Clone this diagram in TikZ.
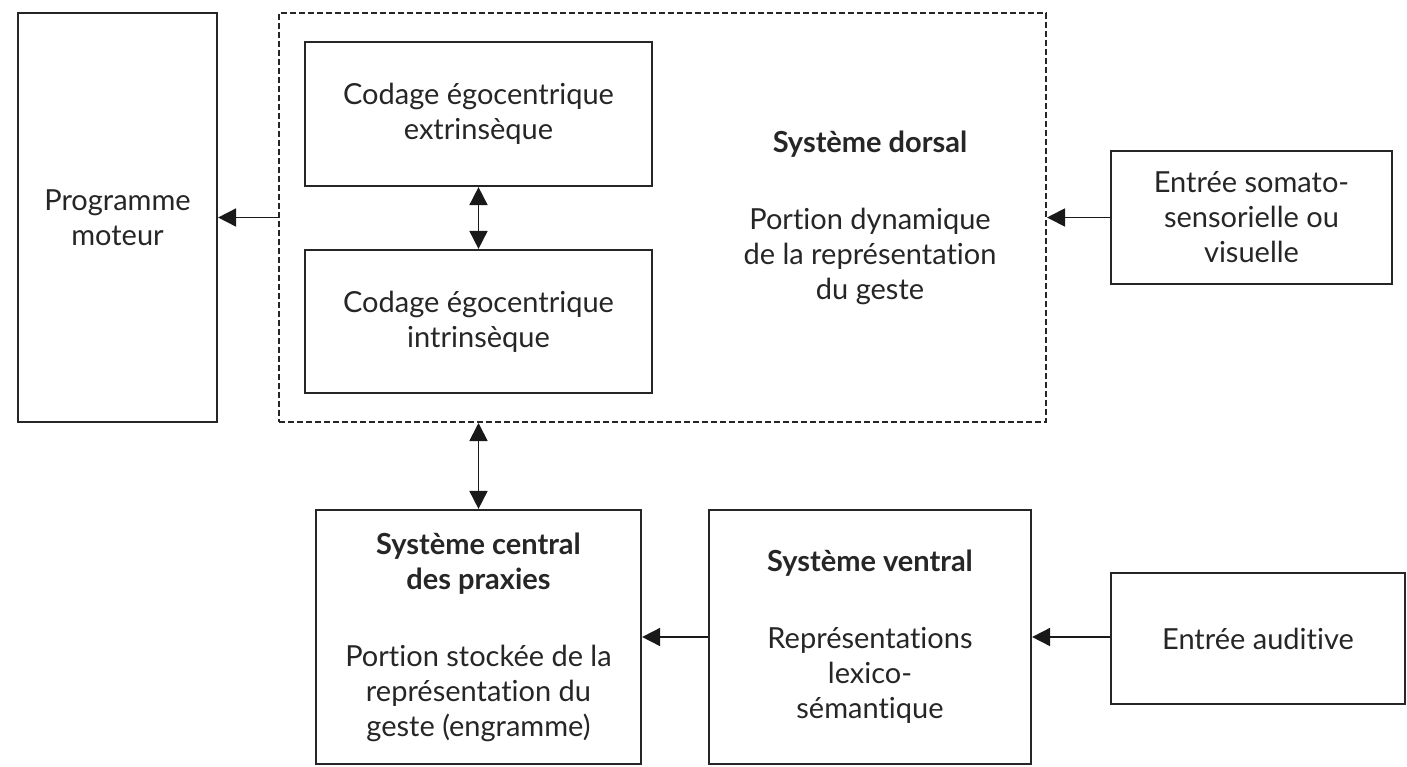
\documentclass[tikz,border=0pt]{standalone}
\usepackage{fontspec}
\setmainfont[Ligatures=NoCommon]{Lato}
\usetikzlibrary{arrows.meta}
\begin{document}
\begin{tikzpicture}[x=0.5pt,y=-0.5pt,
  box/.style={draw=black!85,line width=1.1pt,inner sep=0pt,align=center,
    font=\fontsize{14.5}{17.5}\selectfont,text=black!85},
  dbox/.style={draw=black!85,line width=1pt,dash pattern=on 3pt off 1.5pt,inner sep=0pt},
  txt/.style={align=center,font=\fontsize{14.5}{17.5}\selectfont,text=black!85,inner sep=0pt},
  conn/.style={line width=0.9pt,draw=black!90,-{Triangle[length=9pt,width=9pt]}},
  dconn/.style={line width=0.9pt,draw=black!90,{Triangle[length=9pt,width=9pt]}-{Triangle[length=9pt,width=9pt]}}
]
\useasboundingbox (0,0) rectangle (1407,766);
\node[box,minimum width=99.5pt,minimum height=204.5pt] (prog) at (117.5,217.5) {Programme\\moteur};
\node[dbox,minimum width=383.5pt,minimum height=204.5pt] (dorsal) at (662.5,217.5) {};
\node[box,minimum width=173.5pt,minimum height=72pt] (ext) at (478.5,114) {Codage égocentrique\\extrinsèque};
\node[box,minimum width=173.5pt,minimum height=71.5pt] (int) at (478.5,321.5) {Codage égocentrique\\intrinsèque};
\node[txt] (dtxt) at (870,218) {\textbf{Système dorsal}\\[21pt]Portion dynamique\\de la représentation\\du geste};
\node[box,minimum width=140.5pt,minimum height=66.5pt] (somato) at (1251.5,217.5) {Entrée somato-\\sensorielle ou\\visuelle};
\node[box,minimum width=162.5pt,minimum height=127pt] (central) at (478.5,637) {\textbf{Système central}\\\textbf{des praxies}\\[21pt]Portion stockée de la\\représentation du\\geste (engramme)};
\node[box,minimum width=161pt,minimum height=127pt] (ventral) at (870,637) {\textbf{Système ventral}\\[21pt]Représentations\\lexico-\\sémantique};
\node[box,minimum width=147pt,minimum height=65.5pt] (audit) at (1258,638.5) {Entrée auditive};
\draw[conn] (dorsal.west) -- (prog.east);
\draw[conn] (somato.west) -- (dorsal.east);
\draw[dconn] (ext.south) -- (int.north);
\draw[dconn] (central.north |- dorsal.south) -- (central.north);
\draw[conn] (ventral.west) -- (central.east);
\draw[conn] (audit.west |- ventral.east) -- (ventral.east);
\end{tikzpicture}
\end{document}
